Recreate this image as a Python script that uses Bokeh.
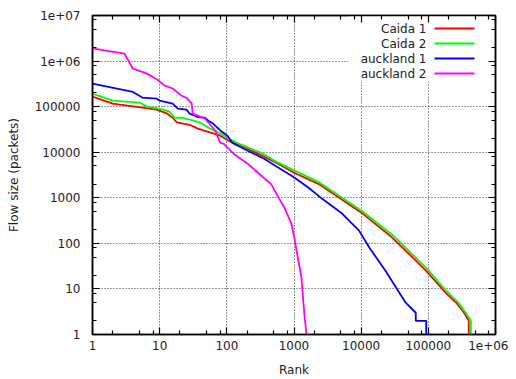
from bokeh.plotting import figure
from bokeh.models import FixedTicker, LogAxis, Label, BoxAnnotation, Range1d
from bokeh.embed import file_html
from bokeh.resources import INLINE

# ---- data ----
caida1_rank = [1, 2, 5.5, 9, 13, 15.6, 18, 28, 37, 53, 80, 113, 160, 290, 580, 1000,
               2350, 4700, 10500, 29000, 93000, 186000, 266000, 340000, 400000, 400000]
caida1_size = [166000, 116000, 95000, 86000, 70000, 57000, 45000, 40000, 33000, 28000,
               23000, 17000, 14000, 9300, 5600, 3550, 2000, 1000, 450, 134, 25, 7.9,
               4.8, 3, 2, 1]

caida2_rank = [1, 2, 5, 6.5, 10, 14, 16.7, 22, 28, 40, 56, 80, 113, 160, 320, 580, 1000,
               2350, 4900, 10500, 29000, 93000, 186000, 280000, 360000, 430000, 430000]
caida2_size = [193000, 135000, 123000, 100000, 90000, 78000, 57000, 57000, 52000, 45000,
               33000, 26000, 19000, 14800, 9800, 5900, 4000, 2200, 1070, 500, 155, 29,
               9, 5, 3, 2, 1]

auck1_rank = [1, 4, 5.5, 9, 10, 15.6, 18.6, 25, 28, 36, 47, 53, 63, 80, 102, 121, 144,
              204, 358, 580, 1010, 1650, 2600, 5200, 9300, 13200, 23000, 33000, 46000,
              65000, 65000, 93000, 93000]
auck1_size = [320000, 210000, 158000, 150000, 135000, 116000, 90000, 86000, 70000, 60000,
              57000, 49000, 42000, 30000, 23000, 16000, 14000, 10800, 7200, 4600, 2800,
              1660, 960, 450, 190, 81, 25, 10.7, 5, 3, 2, 2, 1]

auck2_rank = [1, 3, 4, 6.5, 9.3, 11.8, 15.6, 21, 25, 30, 31, 47, 67, 80, 89, 126, 204,
              290, 457, 600, 720, 915, 1010, 1160, 1290, 1380, 1440, 1540]
auck2_size = [1900000, 1450000, 680000, 530000, 390000, 290000, 250000, 174000, 157000,
              116000, 70000, 55000, 30000, 16000, 15500, 9300, 5600, 3550, 2000, 960,
              610, 272, 134, 42, 18, 5, 2.4, 1]

series_names = ["Caida 1", "Caida 2", "auckland 1", "auckland 2"]
series_colors = ["#ff0000", "#00ff00", "#0000ff", "#ff00ff"]
series_x = [caida1_rank, caida2_rank, auck1_rank, auck2_rank]
series_y = [caida1_size, caida2_size, auck1_size, auck2_size]

x_ticks = [1, 10, 100, 1000, 10000, 100000, 1000000]
x_tick_labels = ["1", "10", "100", "1000", "10000", "100000", "1e+06"]
y_ticks = [1, 10, 100, 1000, 10000, 100000, 1000000, 10000000]
y_tick_labels = ["1", "10", "100", "1000", "10000", "100000", "1e+06", "1e+07"]
minor_mult = [2, 5, 8]

FONT = "DejaVu Sans"
FS = "12px"

x_minor = [m * t for t in x_ticks[:-1] for m in minor_mult]
y_minor = [m * t for t in y_ticks[:-1] for m in minor_mult]
xt = FixedTicker(ticks=x_ticks, minor_ticks=x_minor)
yt = FixedTicker(ticks=y_ticks, minor_ticks=y_minor)

p = figure(width=508, height=379, x_axis_type="log", y_axis_type="log",
           x_range=Range1d(1, 1e6), y_range=Range1d(1, 1e7),
           output_backend="svg", toolbar_location=None,
           min_border_left=92, min_border_right=13, min_border_top=15,
           min_border_bottom=45, x_axis_label="Rank",
           y_axis_label="Flow size (packets)")
p.background_fill_color = "white"
p.border_fill_color = "white"
p.outline_line_color = "black"
p.outline_line_width = 1.5

for xs, ys, c in zip(series_x, series_y, series_colors):
    p.line(xs, ys, line_color=c, line_width=1.8)

def style_axis(ax, ticker, labels):
    ax.ticker = ticker
    ax.major_tick_in = 7
    ax.major_tick_out = 0
    ax.minor_tick_in = 4
    ax.minor_tick_out = 0
    ax.axis_line_color = "black"
    ax.axis_line_width = 1.5
    ax.major_tick_line_color = "black"
    ax.major_tick_line_width = 1.2
    ax.minor_tick_line_color = "black"
    ax.minor_tick_line_width = 1.2
    ax.major_label_text_font = FONT
    ax.major_label_text_font_size = FS
    ax.major_label_text_color = "#222222"
    ax.axis_label_text_font = FONT
    ax.axis_label_text_font_size = FS
    ax.axis_label_text_font_style = "normal"
    ax.axis_label_text_color = "#222222"
    ax.major_label_overrides = labels

xlab = {t: s for t, s in zip(x_ticks, x_tick_labels)}
ylab = {t: s for t, s in zip(y_ticks, y_tick_labels)}
xblank = {t: "" for t in x_ticks}
yblank = {t: "" for t in y_ticks}

style_axis(p.xaxis[0], xt, xlab)
p.xaxis[0].major_label_standoff = 6
p.xaxis[0].axis_label_standoff = 10
style_axis(p.yaxis[0], yt, ylab)
p.yaxis[0].major_label_standoff = 12
p.yaxis[0].axis_label_standoff = 11

top_ax = LogAxis()
style_axis(top_ax, xt, xblank)
top_ax.major_label_standoff = 0
top_ax.major_label_text_font_size = "1px"
p.add_layout(top_ax, "above")
right_ax = LogAxis()
style_axis(right_ax, yt, yblank)
right_ax.major_label_standoff = 0
right_ax.major_label_text_font_size = "1px"
p.add_layout(right_ax, "right")

p.xgrid.ticker = xt
p.ygrid.ticker = yt
p.grid.grid_line_color = "black"
p.grid.grid_line_alpha = 0.8
p.grid.grid_line_dash = "1 2"
p.grid.grid_line_width = 1

# legend (gnuplot style: text right-aligned, then line sample)
p.add_layout(BoxAnnotation(left=256, right=397, bottom=253, top=319,
                           left_units="screen", right_units="screen",
                           bottom_units="screen", top_units="screen",
                           fill_color="white", fill_alpha=1.0, line_color=None,
                           level="glyph"))
leg_y = [306, 291, 276, 261]
for name, c, yy in zip(series_names, series_colors, leg_y):
    p.add_layout(Label(x=334, y=yy, x_units="screen", y_units="screen", text=name,
                       text_align="right", text_baseline="middle",
                       text_font=FONT, text_font_size=FS, text_color="#222222"))
    p.add_layout(BoxAnnotation(left=342, right=382, bottom=yy - 1, top=yy + 1,
                               left_units="screen", right_units="screen",
                               bottom_units="screen", top_units="screen",
                               fill_color=c, fill_alpha=1.0, line_color=None,
                               level="annotation"))

open("out.html", "w").write(file_html(p, INLINE))
